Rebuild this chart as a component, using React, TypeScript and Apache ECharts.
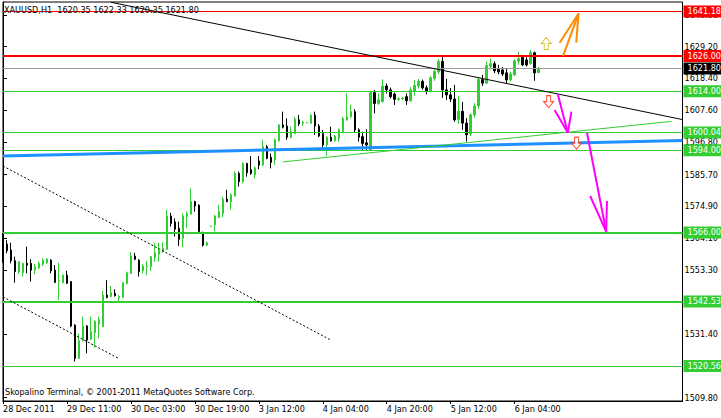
import React, { useEffect, useRef } from "react";
import * as echarts from "echarts";

const symbolName = "XAUUSD,H1";
const copyright = "Skopalino Terminal, © 2001-2011 MetaQuotes Software Corp.";
const xTickLabels = ["28 Dec 2011", "29 Dec 11:00", "30 Dec 03:00", "30 Dec 19:00", "3 Jan 12:00", "4 Jan 04:00", "4 Jan 20:00", "5 Jan 12:00", "6 Jan 04:00"];
const barsPerLabel = 16;
const totalSlots = 171;
const yTicks = [1509.8, 1520.6, 1531.4, 1542.5, 1553.3, 1564.1, 1574.9, 1585.7, 1596.8, 1607.6, 1618.4, 1629.2, 1640.0];
// tick labels that stay visible (the others sit fully under level boxes)
const yTickLabels = [1509.8, 1531.4, 1553.3, 1564.1, 1574.9, 1585.7, 1596.8, 1607.6, 1618.4, 1629.2, 1640.0];
const yMin = 1508.69;
const yMax = 1644.39;

const opens = [1565.5, 1562.1, 1560.0, 1556.4, 1552.7, 1552.3, 1555.5, 1555.5, 1553.2, 1554.0, 1555.2, 1555.7, 1556.6, 1553.2, 1549.4, 1549.0, 1551.5, 1549.3, 1534.5, 1523.2, 1529.2, 1534.2, 1529.7, 1531.9, 1534.8, 1534.0, 1544.7, 1544.2, 1545.3, 1543.8, 1544.0, 1548.7, 1552.1, 1558.0, 1556.6, 1553.0, 1554.4, 1554.4, 1557.5, 1558.6, 1559.5, 1560.3, 1571.6, 1569.6, 1567.4, 1564.0, 1571.4, 1572.3, 1576.5, 1575.3, 1565.5, 1561.7, 1568.1, 1568.6, 1571.2, 1572.5, 1577.3, 1576.5, 1578.4, 1586.1, 1583.3, 1589.5, 1587.3, 1585.6, 1590.3, 1588.9, 1595.2, 1591.6, 1590.7, 1597.2, 1602.6, 1602.2, 1598.4, 1599.7, 1604.3, 1603.2, 1603.3, 1603.1, 1605.9, 1602.2, 1599.7, 1595.8, 1598.4, 1597.2, 1598.0, 1600.3, 1604.3, 1605.4, 1607.1, 1600.9, 1598.6, 1596.5, 1594.1, 1613.6, 1609.9, 1610.5, 1615.8, 1614.5, 1613.1, 1611.3, 1611.5, 1612.2, 1610.8, 1614.0, 1615.8, 1617.4, 1615.2, 1614.0, 1618.4, 1620.6, 1624.2, 1614.5, 1612.8, 1611.4, 1604.5, 1607.2, 1603.2, 1599.5, 1606.0, 1609.0, 1618.0, 1616.8, 1622.5, 1623.4, 1621.5, 1621.3, 1620.3, 1617.9, 1619.6, 1624.2, 1625.6, 1624.7, 1623.5, 1627.15, 1620.35];
const closes = [1561.7, 1559.8, 1556.4, 1552.7, 1556.1, 1555.5, 1554.9, 1553.2, 1554.4, 1555.5, 1556.6, 1556.9, 1553.0, 1549.0, 1549.6, 1551.5, 1548.7, 1534.2, 1523.2, 1529.2, 1534.2, 1529.4, 1532.3, 1535.8, 1536.4, 1544.7, 1543.9, 1545.5, 1544.5, 1544.2, 1548.9, 1552.3, 1558.0, 1556.9, 1552.7, 1554.6, 1554.7, 1557.8, 1559.1, 1559.8, 1560.6, 1571.6, 1569.1, 1567.1, 1563.7, 1571.6, 1572.5, 1576.5, 1575.0, 1566.3, 1561.7, 1562.5, 1568.2, 1571.6, 1573.1, 1577.3, 1576.5, 1578.8, 1586.1, 1583.3, 1589.5, 1586.3, 1586.1, 1588.0, 1588.9, 1595.2, 1591.2, 1589.8, 1597.5, 1602.6, 1601.8, 1598.4, 1600.3, 1604.5, 1602.9, 1603.5, 1603.4, 1605.9, 1602.2, 1598.8, 1595.8, 1598.4, 1597.2, 1598.8, 1600.9, 1604.8, 1605.4, 1607.1, 1600.9, 1598.4, 1596.3, 1595.8, 1613.6, 1609.9, 1611.1, 1615.8, 1614.5, 1612.2, 1611.3, 1611.5, 1611.7, 1610.8, 1614.5, 1616.0, 1617.4, 1615.2, 1614.0, 1618.6, 1620.8, 1624.2, 1614.5, 1612.8, 1611.4, 1604.3, 1607.2, 1603.2, 1599.2, 1606.0, 1609.0, 1618.0, 1616.8, 1622.8, 1623.4, 1621.0, 1620.6, 1619.9, 1617.9, 1619.9, 1624.4, 1625.2, 1623.0, 1623.0, 1627.15, 1620.3, 1621.8];
const highs = [1565.7, 1563.4, 1562.5, 1557.8, 1556.3, 1555.7, 1561.2, 1556.9, 1555.3, 1556.1, 1557.2, 1557.3, 1556.9, 1554.9, 1555.7, 1551.8, 1553.0, 1549.5, 1534.8, 1531.7, 1537.4, 1534.5, 1537.4, 1536.2, 1537.4, 1546.1, 1549.8, 1547.8, 1546.7, 1544.7, 1549.2, 1552.7, 1559.3, 1559.1, 1556.9, 1555.3, 1556.3, 1558.0, 1562.3, 1562.5, 1562.7, 1573.7, 1572.7, 1570.8, 1569.7, 1572.5, 1573.1, 1581.0, 1576.8, 1575.6, 1566.3, 1562.9, 1568.3, 1572.0, 1575.4, 1578.2, 1580.5, 1579.3, 1586.7, 1586.7, 1589.9, 1589.7, 1592.0, 1588.5, 1592.0, 1597.5, 1595.8, 1592.9, 1598.0, 1602.9, 1607.1, 1604.8, 1602.0, 1605.4, 1606.0, 1604.0, 1603.6, 1606.3, 1607.1, 1602.9, 1600.9, 1598.8, 1602.0, 1599.2, 1601.4, 1605.4, 1613.3, 1609.4, 1607.9, 1601.4, 1600.3, 1601.1, 1613.9, 1614.5, 1613.3, 1618.1, 1616.7, 1615.3, 1613.6, 1612.0, 1612.0, 1613.3, 1615.5, 1617.9, 1618.2, 1618.0, 1616.0, 1619.2, 1621.5, 1625.0, 1626.4, 1618.2, 1615.1, 1616.2, 1612.5, 1610.4, 1604.9, 1606.5, 1610.0, 1618.8, 1619.6, 1624.2, 1625.2, 1624.2, 1623.0, 1622.3, 1621.8, 1620.7, 1624.9, 1627.5, 1625.8, 1625.6, 1628.1, 1627.5, 1622.33];
const lows = [1555.7, 1558.9, 1555.5, 1548.9, 1551.9, 1551.0, 1552.1, 1549.3, 1551.8, 1553.5, 1554.6, 1555.3, 1552.1, 1548.9, 1543.0, 1548.7, 1548.5, 1533.8, 1522.1, 1523.0, 1528.9, 1524.9, 1529.4, 1526.9, 1530.0, 1533.8, 1543.6, 1543.9, 1544.2, 1542.1, 1543.7, 1548.4, 1551.9, 1556.6, 1551.0, 1552.1, 1551.5, 1553.0, 1556.1, 1556.1, 1559.1, 1560.0, 1568.0, 1564.6, 1561.4, 1561.0, 1567.4, 1572.0, 1573.1, 1565.7, 1561.2, 1561.4, 1568.0, 1566.3, 1570.8, 1571.2, 1576.3, 1573.7, 1578.2, 1581.6, 1582.7, 1585.0, 1585.6, 1584.4, 1587.5, 1588.6, 1590.9, 1587.8, 1589.0, 1596.9, 1601.4, 1597.5, 1598.0, 1599.5, 1602.2, 1602.2, 1603.2, 1602.9, 1599.2, 1598.4, 1594.1, 1592.0, 1596.9, 1596.9, 1596.9, 1599.9, 1604.0, 1604.8, 1599.9, 1596.9, 1594.1, 1594.1, 1593.8, 1606.5, 1609.4, 1610.2, 1613.3, 1611.6, 1609.4, 1610.8, 1611.0, 1609.4, 1610.5, 1612.5, 1615.0, 1614.6, 1613.0, 1613.6, 1617.6, 1619.8, 1611.8, 1611.1, 1610.4, 1603.7, 1603.0, 1600.9, 1596.9, 1598.8, 1605.0, 1608.0, 1615.8, 1616.5, 1621.5, 1620.2, 1619.8, 1619.2, 1616.7, 1617.3, 1619.2, 1623.0, 1622.6, 1622.4, 1623.0, 1617.6, 1620.35];

// horizontal levels
const resistanceLevels = [1641.18, 1626.0];
const supportLevels = [1614.0, 1600.04, 1594.0, 1566.0, 1542.53, 1520.56];
const thickLevels = [1626.0, 1566.0, 1542.53];

// trend lines: [barIndex, price]
const mainTrend = [[27, 1644.3], [170, 1604.4]];
const dashedTrendA = [[0, 1588.6], [81.75, 1529.6]];
const dashedTrendB = [[0, 1544.1], [28.75, 1523.3]];
const blueTrend = [[0, 1592.0], [170, 1597.3]];
const risingTrend = [[70, 1590.0], [167.25, 1603.8]];
// arrows drawn by hand: shaft + head
const pinkShaft1 = [[138.8, 1613.0], [141.3, 1599.9]];
const pinkHead1 = [[138.0, 1607.7], [141.3, 1599.9], [142.2, 1607.1]];
const pinkShaft2 = [[146.1, 1599.9], [150.9, 1566.3]];
const pinkHead2 = [[146.9, 1578.4], [150.9, 1566.3], [151.1, 1576.7]];
const orangeShaft = [[140.1, 1626.0], [144.0, 1640.5]];
const orangeHead = [[139.25, 1630.55], [144.0, 1640.5], [143.4, 1630.55]];
// arrow symbols
const upSignals = [[135.9, 1630.3]];
const downSignals = [[136.5, 1610.5], [143.5, 1596.4]];

const FONT = "'DejaVu Sans Condensed', 'DejaVu Sans', sans-serif";
const GREEN = "#32CD32";

export default function App() {
  const ref = useRef<HTMLDivElement>(null);
  useEffect(() => {
    if (!ref.current) return;
    const chart = echarts.init(ref.current, null, { renderer: "svg" });
    const n = opens.length;
    const last = n - 1;
    const candleData = opens.map((o, i) => [o, closes[i], lows[i], highs[i]]);
    const categories = Array.from({ length: totalSlots }, (_, i) => String(i));
    const showTick = (idx: number) => idx % barsPerLabel === 0 && idx / barsPerLabel < xTickLabels.length;

    const lineSeries = (data: number[][], color: string, width: number, type: any = "solid") => ({
      type: "line",
      xAxisIndex: 1,
      yAxisIndex: 0,
      data,
      showSymbol: false,
      symbol: "none",
      silent: true,
      z: 4,
      lineStyle: { color, width, type },
    });

    const levelItem = (v: number, color: string, textColor: string, width: number) => ({
      yAxis: v,
      lineStyle: { color, width, type: "solid" },
      label: {
        show: true,
        position: "end",
        distance: 1,
        formatter: () => v.toFixed(2),
        backgroundColor: color,
        color: textColor,
        padding: [1, 4, 0, 4],
        lineHeight: 11,
        fontSize: 9,
        fontFamily: FONT,
      },
    });

    const markLineData = [
      ...resistanceLevels.map((v) => levelItem(v, "#FF0000", "#FFFFFF", thickLevels.includes(v) ? 2 : 1)),
      ...supportLevels.map((v) => levelItem(v, GREEN, "#FFFFFF", thickLevels.includes(v) ? 2 : 1)),
      {
        ...levelItem(closes[last], "#000000", "#FFFFFF", 1),
        lineStyle: { color: "#9A9A9A", width: 1, type: "solid" },
      },
    ];

    const upPath = "path://M5,0 L10,6 L7,6 L7,12 L3,12 L3,6 L0,6 Z";
    const downPath = "path://M3,0 L7,0 L7,6 L10,6 L5,12 L0,6 L3,6 Z";

    const option: any = {
      animation: false,
      backgroundColor: "#FFFFFF",
      textStyle: { fontFamily: FONT },
      title: {
        text: `${symbolName}  ${opens[last].toFixed(2)} ${highs[last].toFixed(2)} ${lows[last].toFixed(2)} ${closes[last].toFixed(2)}`,
        left: 4,
        top: 5,
        padding: 0,
        textStyle: { fontSize: 9, fontWeight: "normal", color: "#000", fontFamily: FONT },
      },
      graphic: [
        {
          type: "text",
          left: 5,
          top: 387,
          style: { text: copyright, fill: "#000", font: `9px ${FONT}` },
        },
      ],
      grid: {
        left: 3,
        right: 38,
        top: 2,
        bottom: 17,
        show: true,
        borderColor: "#000",
        borderWidth: 1,
        backgroundColor: "transparent",
      },
      xAxis: [
        {
          type: "category",
          data: categories,
          boundaryGap: false,
          axisLine: { show: true, lineStyle: { color: "#000" } },
          axisTick: { show: true, interval: (idx: number) => showTick(idx), length: 3, lineStyle: { color: "#000" } },
          axisLabel: {
            interval: (idx: number) => showTick(idx),
            formatter: (_v: string, idx: number) => xTickLabels[idx / barsPerLabel] ?? "",
            align: "left",
            margin: 3,
            color: "#000",
            fontSize: 9,
            fontFamily: FONT,
          },
          splitLine: { show: false },
        },
        { type: "value", min: 0, max: totalSlots - 1, show: false },
      ],
      yAxis: {
        type: "value",
        position: "right",
        min: yMin,
        max: yMax,
        scale: true,
        splitLine: { show: false },
        axisLine: { show: true, lineStyle: { color: "#000" } },
        axisTick: { show: true, length: 4, customValues: yTicks, lineStyle: { color: "#000" } },
        axisLabel: {
          customValues: yTickLabels,
          formatter: (v: number) => v.toFixed(2),
          margin: 2,
          color: "#000",
          fontSize: 9,
          fontFamily: FONT,
        },
      },
      series: [
        {
          type: "candlestick",
          xAxisIndex: 0,
          yAxisIndex: 0,
          data: candleData,
          barWidth: 2,
          silent: true,
          z: 2,
          itemStyle: {
            color: GREEN,
            color0: "#000000",
            borderColor: GREEN,
            borderColor0: "#000000",
            borderWidth: 1,
          },
        },
        {
          ...lineSeries(blueTrend, "#1E90FF", 3),
          markLine: { silent: true, symbol: ["none", "none"], animation: false, data: markLineData, z: 3 },
        },
        lineSeries(mainTrend, "#000000", 1),
        lineSeries(dashedTrendA, "#000000", 1, [2, 2]),
        lineSeries(dashedTrendB, "#000000", 1, [2, 2]),
        lineSeries(risingTrend, GREEN, 1),
        lineSeries(pinkShaft1, "#FF00FF", 2),
        lineSeries(pinkHead1, "#FF00FF", 2),
        lineSeries(pinkShaft2, "#FF00FF", 2),
        lineSeries(pinkHead2, "#FF00FF", 2),
        lineSeries(orangeShaft, "#FF8C00", 2),
        lineSeries(orangeHead, "#FF8C00", 2),
        {
          type: "scatter",
          xAxisIndex: 1,
          yAxisIndex: 0,
          data: upSignals,
          symbol: upPath,
          symbolSize: [10, 12],
          silent: true,
          z: 5,
          itemStyle: { color: "#FFFFFF", borderColor: "#C8B400", borderWidth: 1 },
        },
        {
          type: "scatter",
          xAxisIndex: 1,
          yAxisIndex: 0,
          data: downSignals,
          symbol: downPath,
          symbolSize: [10, 12],
          silent: true,
          z: 5,
          itemStyle: { color: "#FFFFFF", borderColor: "#FF2000", borderWidth: 1 },
        },
      ],
    };
    chart.setOption(option);
    return () => chart.dispose();
  }, []);
  return (
    <div
      ref={ref}
      style={{ position: "fixed", left: 0, top: 0, width: 721, height: 418, background: "#fff" }}
    />
  );
}
